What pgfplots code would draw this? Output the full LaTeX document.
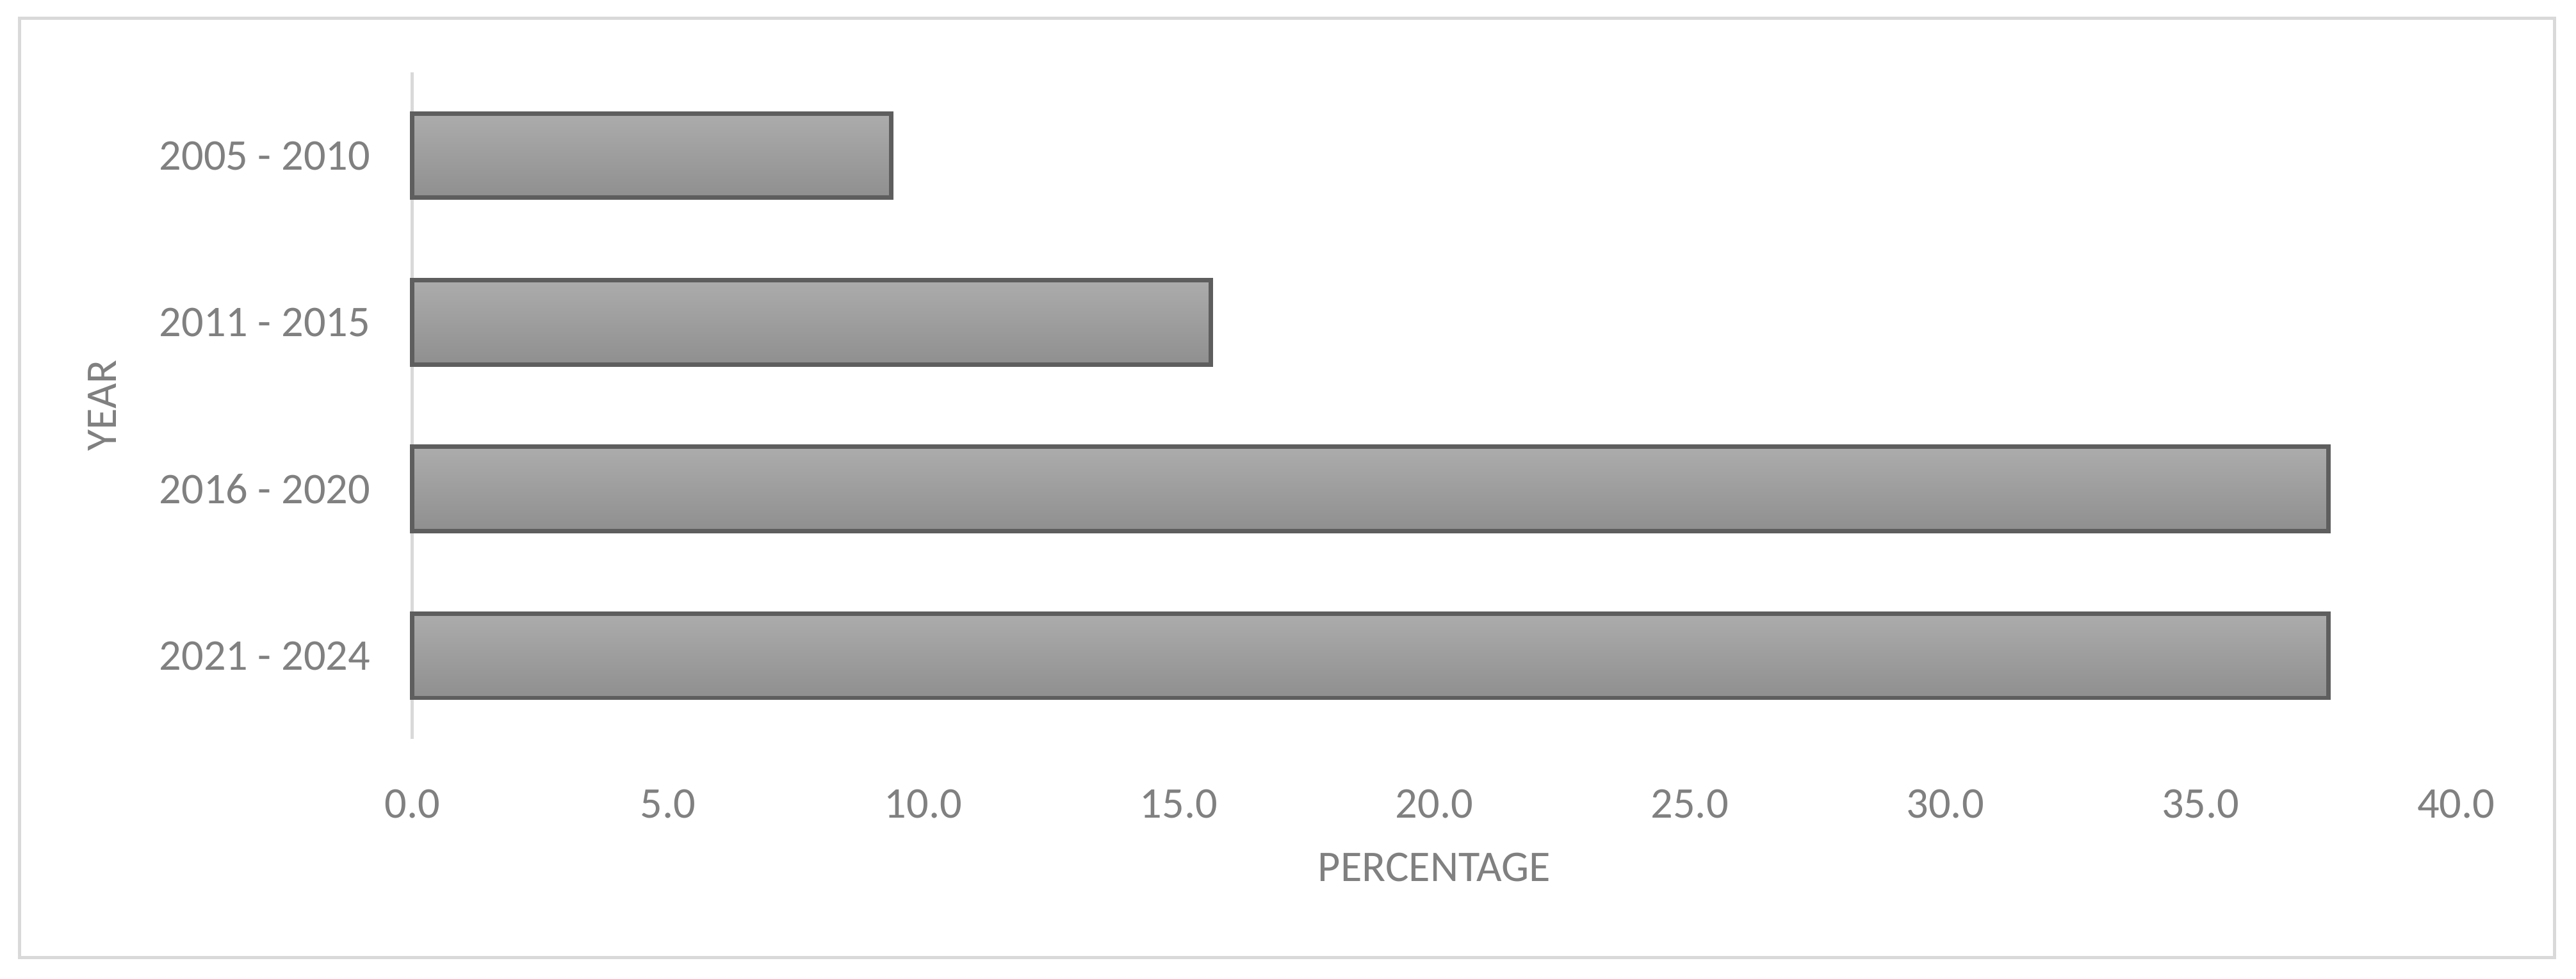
\documentclass[border=0pt]{standalone}
\usepackage{pgfplots}
\pgfplotsset{compat=1.18}
\usepackage{fontspec}
\setmainfont{Carlito}
\definecolor{txt}{HTML}{808080}
\definecolor{framec}{HTML}{D9D9D9}
\definecolor{baredge}{HTML}{5E5E5E}
\definecolor{bartop}{HTML}{ACACAC}
\definecolor{barbot}{HTML}{8F8F8F}
\begin{document}
\begin{tikzpicture}
\useasboundingbox (-75.3pt,-43.8pt) rectangle (395.1pt,135pt);
\draw[framec, line width=0.6pt] (-71.7pt,-39.9pt) rectangle (391.2pt,131.7pt);
\begin{axis}[
 at={(0,0)}, anchor=south west, scale only axis,
 width=373.2pt, height=121.8pt,
 xmin=0, xmax=40, ymin=-0.5, ymax=3.5,
 xtick={0,5,...,40}, ytick={0,1,2,3},
 yticklabels={2021 - 2024, 2016 - 2020, 2011 - 2015, 2005 - 2010},
 axis lines*=left,
 x axis line style={draw=none},
 y axis line style={draw=framec, line width=0.6pt},
 major tick length=0pt,
 tick style={draw=none},
 font=\fontsize{8pt}{9.6pt}\selectfont,
 ticklabel style={text=txt, font=\fontsize{8pt}{9.6pt}\selectfont, inner sep=0pt},
 xticklabel style={anchor=north, yshift=-9pt},
 yticklabel style={anchor=east, xshift=-7.5pt},
 xticklabel={\pgfmathprintnumber[fixed, fixed zerofill, precision=1, assume math mode=true]{\tick}},
 xlabel={PERCENTAGE}, ylabel={YEAR},
 xlabel style={at={(axis description cs:0.5,-0.1921)}, anchor=center, text=txt, inner sep=0pt, font=\fontsize{8pt}{9.6pt}\selectfont},
 ylabel style={at={(axis description cs:-0.1519,0.5)}, anchor=center, text=txt, inner sep=0pt, font=\fontsize{8pt}{9.6pt}\selectfont},
 clip=false,
]
\addplot[xbar, bar width=15.4pt, bar shift=0pt, draw=baredge, line width=0.8pt, top color=bartop, bottom color=barbot] coordinates {(9.375,3)};
\addplot[xbar, bar width=15.4pt, bar shift=0pt, draw=baredge, line width=0.8pt, top color=bartop, bottom color=barbot] coordinates {(15.625,2)};
\addplot[xbar, bar width=15.4pt, bar shift=0pt, draw=baredge, line width=0.8pt, top color=bartop, bottom color=barbot] coordinates {(37.5,1)};
\addplot[xbar, bar width=15.4pt, bar shift=0pt, draw=baredge, line width=0.8pt, top color=bartop, bottom color=barbot] coordinates {(37.5,0)};
\end{axis}
\end{tikzpicture}
\end{document}
